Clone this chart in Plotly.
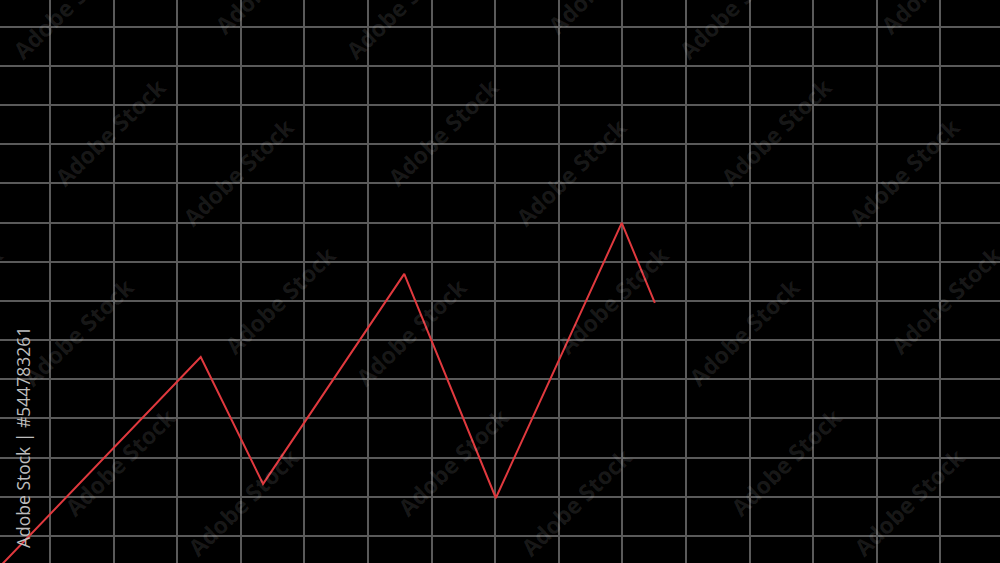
import plotly.graph_objects as go

# ---- data (grid units) ----
x_values = [-0.80, 2.37, 3.35, 5.57, 7.01, 8.99, 9.51]
y_values = [-0.80, 4.57, 1.33, 6.69, 0.97, 7.99, 5.95]

watermark_text = "Adobe Stock"
side_label = "Adobe Stock | #544783261"

W, H = 1000, 563

fig = go.Figure()
fig.add_trace(go.Scatter(
    x=x_values, y=y_values, mode="lines",
    line=dict(color="#e0393e", width=2),
    hoverinfo="skip", showlegend=False,
))

# watermark tile (pixel centres within a 333 px wide tile)
tile = [(68, 5), (110, 132), (238, 172), (270, -20),
        (78, 332), (280, 300), (120, 462), (243, 502)]
annotations = []
for k in range(-1, 4):
    for (tx, ty) in tile:
        cx = tx + 333 * k
        if -120 < cx < W + 120:
            annotations.append(dict(
                x=cx / W, y=1 - ty / H, xref="paper", yref="paper",
                text=watermark_text, showarrow=False, textangle=-44,
                xanchor="center", yanchor="middle",
                font=dict(family="Open Sans", size=23, color="rgba(255,255,255,0.10)", weight="bold"),
            ))

annotations.append(dict(
    x=23 / W, y=1 - 438 / H, xref="paper", yref="paper",
    text=side_label, showarrow=False, textangle=-90,
    xanchor="center", yanchor="middle",
    font=dict(family="Open Sans", size=17.5, color="#bdbdbd"),
))

fig.update_layout(
    width=W, height=H,
    margin=dict(l=0, r=0, t=0, b=0),
    paper_bgcolor="black", plot_bgcolor="black",
    xaxis=dict(range=[-0.786, 14.937], tick0=0, dtick=1, showticklabels=False,
               showgrid=True, gridcolor="#5a5a5a", gridwidth=1.5, zeroline=False,
               showline=False, fixedrange=True),
    yaxis=dict(range=[-0.689, 13.680], tick0=0, dtick=1, showticklabels=False,
               showgrid=True, gridcolor="#5a5a5a", gridwidth=1.5, zeroline=False,
               showline=False, fixedrange=True),
    annotations=annotations,
)

fig.write_html(
    "out.html",
    config={"displayModeBar": False},
    post_script="document.body.style.margin='0';document.body.style.background='black';",
)
